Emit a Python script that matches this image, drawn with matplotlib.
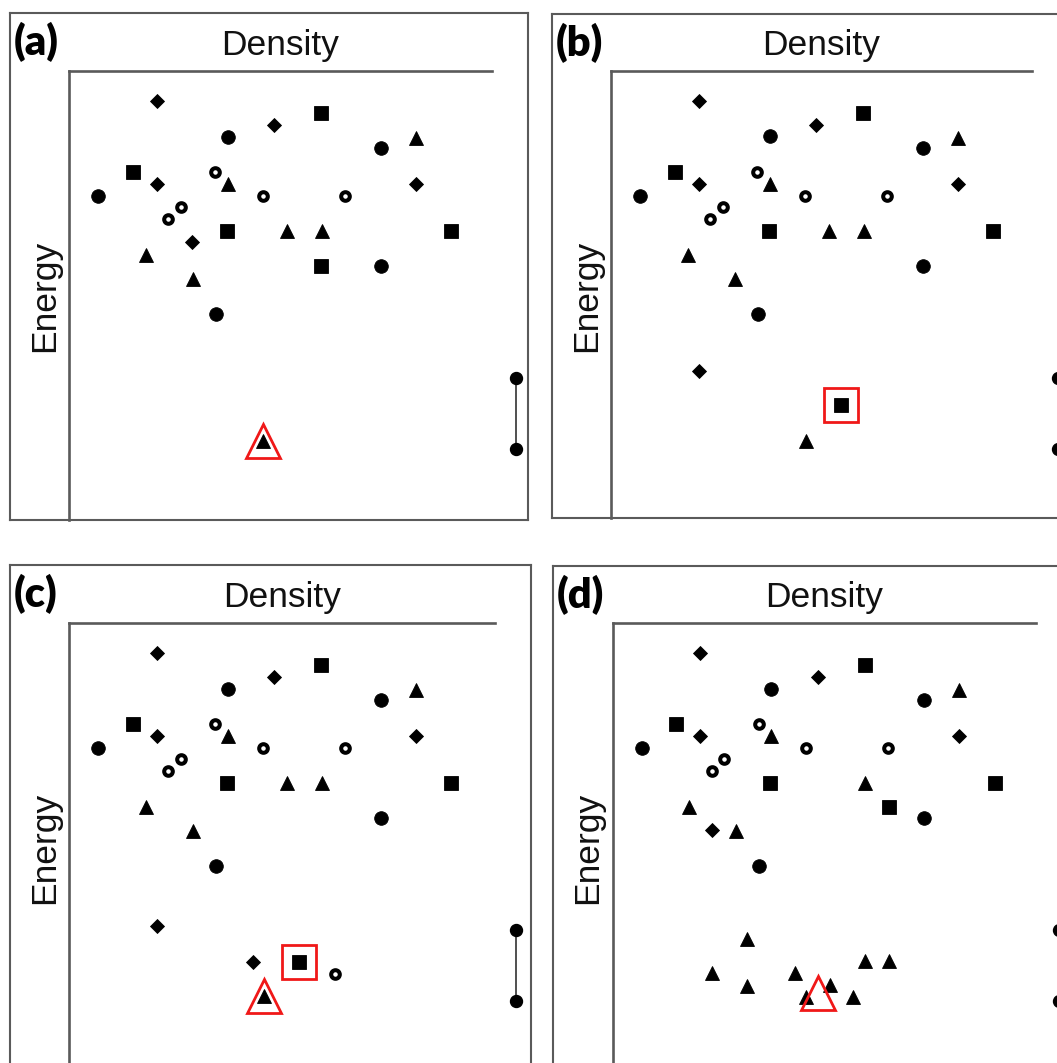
import matplotlib
matplotlib.use('Agg')
import matplotlib.pyplot as plt

# --- figure size in pixels --- #
W, H = 1057, 1063
DPI = 100

# --- structures common to all four panels (density, energy below top edge) --- #
shared_kind = ['diamond', 'square', 'diamond', 'circle', 'circle', 'triangle',
               'square', 'ring', 'triangle', 'diamond', 'circle', 'ring',
               'ring', 'diamond', 'ring', 'ring', 'square', 'triangle',
               'square', 'triangle', 'circle', 'triangle', 'circle']
shared_density = [87.8, 252.4, 205.4, 158.8, 311.8, 347.0,
                  63.9, 146.3, 158.8, 87.8, 29.1, 193.9,
                  276.0, 347.0, 111.5, 99.3, 157.8, 252.7,
                  382.4, 76.7, 311.8, 123.6, 147.0]
shared_energy = [30.4, 42.2, 53.7, 65.5, 77.0, 66.6,
                 100.7, 100.7, 113.2, 113.2, 125.0, 125.0,
                 125.0, 113.2, 135.8, 148.0, 160.1, 160.1,
                 160.1, 184.1, 195.3, 207.8, 242.6]

# --- extra structures per panel --- #
a_kind = ['diamond', 'square', 'triangle']
a_density = [123.0, 252.4, 217.6]
a_energy = [171.3, 195.3, 160.1]

b_kind = ['triangle', 'diamond', 'triangle']
b_density = [217.6, 87.8, 194.6]
b_energy = [160.1, 299.7, 369.9]

c_kind = ['triangle', 'diamond', 'diamond', 'ring']
c_density = [217.6, 88.2, 183.8, 265.9]
c_energy = [160.1, 303.4, 339.2, 351.0]

d_kind = ['square', 'diamond', 'triangle', 'triangle', 'triangle', 'triangle',
          'triangle', 'triangle', 'triangle', 'triangle', 'triangle']
d_density = [276.1, 99.3, 135.0, 99.7, 182.5, 134.7, 252.5, 276.1, 217.2,
             193.6, 240.7]
d_energy = [184.2, 207.1, 315.8, 350.2, 349.5, 362.6, 338.4, 338.4, 362.0,
            373.7, 373.7]

# --- highlighted structures: (kind, density, energy, point shown inside) --- #
a_highlight = [('triangle', 194.0, 370.0, True)]
b_highlight = [('square', 229.7, 334.5, True)]
c_highlight = [('square', 230.4, 338.9, True), ('triangle', 195.3, 373.3, True)]
d_highlight = [('triangle', 205.4, 370.4, False)]

# --- scale bar (energy span) --- #
scale_density = 446.6
scale_energy = [306.8, 378.4]

labels = ['(a)', '(b)', '(c)', '(d)']

# --- styles --- #
style = {
    'diamond':  dict(marker='D', ms=6.8),
    'square':   dict(marker='s', ms=9.4),
    'circle':   dict(marker='o', ms=9.8),
    'triangle': dict(marker='^', ms=9.6),
    'ring':     dict(marker='o', ms=6.2, mfc='white', mew=2.9),
}
frame_col = '#5a5a5a'
red = '#f01818'

# panel geometry in pixels: outer box (x0, y0, x1, y1), inner axes (x0, y0, x1, y1)
panels = [
    ((10, 13, 528, 520), (69, 71, 492, 520)),
    ((552, 14, 1070, 518), (611, 71, 1032, 518)),
    ((10, 565, 531, 1073), (69, 623, 495, 1073)),
    ((553, 566, 1071, 1073), (612.5, 623, 1036.5, 1073)),
]
extras = [(a_kind, a_density, a_energy), (b_kind, b_density, b_energy),
          (c_kind, c_density, c_energy), (d_kind, d_density, d_energy)]
highlights = [a_highlight, b_highlight, c_highlight, d_highlight]


def rect(x0, y0, x1, y1):
    return [x0 / W, 1 - y1 / H, (x1 - x0) / W, (y1 - y0) / H]


def draw_point(ax, kind, x, y):
    st = dict(style[kind])
    st.setdefault('mfc', 'black')
    st.setdefault('mew', 0.6)
    ax.plot([x], [y], ls='none', color='black', mec='black', clip_on=False,
            zorder=3, **st)


fig = plt.figure(figsize=(W / DPI, H / DPI), dpi=DPI)

for i, (box, inner) in enumerate(panels):
    # outer frame
    axo = fig.add_axes(rect(*box))
    axo.set_xticks([])
    axo.set_yticks([])
    axo.patch.set_visible(False)
    for sp in axo.spines.values():
        sp.set_color(frame_col)
        sp.set_linewidth(1.5)

    # inner axes: Density along the top, Energy along the left
    ax = fig.add_axes(rect(*inner))
    ax.patch.set_visible(False)
    w, h = inner[2] - inner[0], inner[3] - inner[1]
    ax.set_xlim(0, w)
    ax.set_ylim(h, 0)
    ax.set_xticks([])
    ax.set_yticks([])
    ax.spines['right'].set_visible(False)
    ax.spines['bottom'].set_visible(False)
    for s in ['top', 'left']:
        ax.spines[s].set_color(frame_col)
        ax.spines[s].set_linewidth(1.9)

    for k, x, y in zip(shared_kind, shared_density, shared_energy):
        draw_point(ax, k, x, y)
    kinds, xs, ys = extras[i]
    for k, x, y in zip(kinds, xs, ys):
        draw_point(ax, k, x, y)

    for k, x, y, inside in highlights[i]:
        if inside:
            draw_point(ax, k, x, y)
        big = 24.5 if k == 'square' else 24.0
        ax.plot([x], [y], ls='none', marker=style[k]['marker'], ms=big,
                mfc='none', mec=red, mew=2.0, clip_on=False, zorder=4)

    # scale bar
    ax.plot([scale_density] * 2, scale_energy, '-', color='#505050', lw=1.4,
            clip_on=False, zorder=2)
    ax.plot([scale_density] * 2, scale_energy, 'o', color='black', ms=8.6,
            clip_on=False, zorder=3)

    # texts
    ax.text(0.5, 1 + 15.5 / h, 'Density', transform=ax.transAxes,
            ha='center', va='baseline', fontsize=25.5, family='Liberation Sans',
            color='#111111')
    ax.text(-24.5 / w, (h - 224.5) / h, 'Energy', transform=ax.transAxes,
            rotation=90, ha='center', va='center', fontsize=25.5,
            family='Liberation Sans', color='#111111')
    fig.text((box[0] + 3.5) / W, 1 - (box[1] + 9) / H, labels[i], ha='left',
             va='top', fontsize=30, fontweight='heavy', family='Lato',
             color='black')

fig.savefig('out.png', dpi=DPI)
